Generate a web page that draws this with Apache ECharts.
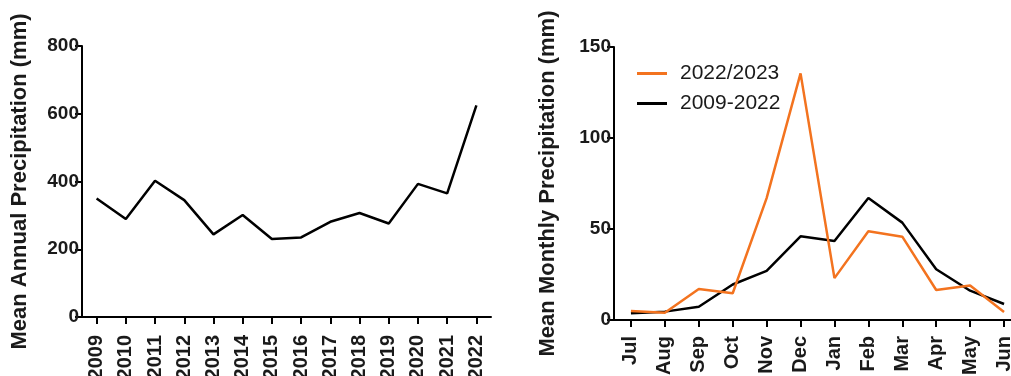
<!DOCTYPE html>
<html>
<head>
<meta charset="utf-8">
<script src="https://cdn.jsdelivr.net/npm/echarts@6/dist/echarts.min.js"></script>
<style>html,body{margin:0;padding:0;background:#fff;}#c{width:1011px;height:376px;}</style>
</head>
<body>
<div id="c"></div>
<script>
const years = ['2009','2010','2011','2012','2013','2014','2015','2016','2017','2018','2019','2020','2021','2022'];
const annualPrecip = [350, 289, 402, 345, 244, 301, 230, 235, 281, 307, 276, 393, 365, 625];
const months = ['Jul','Aug','Sep','Oct','Nov','Dec','Jan','Feb','Mar','Apr','May','Jun'];
const monthly2022_2023 = [5, 4, 17, 14.7, 67, 135.5, 23, 48.8, 45.8, 16.5, 19, 4.4];
const monthly2009_2022 = [3.7, 4.6, 7.3, 19.5, 27, 46, 43.4, 67, 53.5, 27.9, 16.1, 8.8];
const leftTicks = [0, 200, 400, 600, 800];
const rightTicks = [0, 50, 100, 150];

const FONT = '"Liberation Sans", Arial, sans-serif';
const TXT = '#1a1a1a';
const ORANGE = '#f3731f';

const axisLine = { show: true, lineStyle: { color: '#000', width: 2 } };
const axisTick = { show: true, length: 7, lineStyle: { color: '#000', width: 2 } };

const chart = echarts.init(document.getElementById('c'), null, { renderer: 'canvas' });
chart.setOption({
  animation: false,
  backgroundColor: '#fff',
  textStyle: { fontFamily: FONT },
  legend: {
    left: 632, top: 58, orient: 'vertical', itemGap: 9,
    itemWidth: 30, itemHeight: 3, icon: 'rect',
    textStyle: { fontFamily: FONT, fontSize: 21, color: TXT, padding: [0, 0, 0, 8] },
    data: [
      { name: '2022/2023', itemStyle: { color: ORANGE } },
      { name: '2009-2022', itemStyle: { color: '#000' } }
    ]
  },
  grid: [
    { left: 82, width: 409, top: 46, bottom: 59, containLabel: false, outerBoundsMode: 'none' },
    { left: 614, width: 407, top: 47, bottom: 56, containLabel: false, outerBoundsMode: 'none' }
  ],
  xAxis: [
    {
      gridIndex: 0, type: 'category', data: years, boundaryGap: true,
      axisLine: axisLine, axisTick: Object.assign({ alignWithLabel: true }, axisTick),
      axisLabel: { rotate: 90, interval: 0, margin: 18, fontFamily: FONT, fontSize: 20, fontWeight: 'bold', color: TXT }
    },
    {
      gridIndex: 1, type: 'category', data: months, boundaryGap: true,
      axisLine: axisLine, axisTick: Object.assign({ alignWithLabel: true }, axisTick),
      axisLabel: { rotate: 90, interval: 0, margin: 16, fontFamily: FONT, fontSize: 20, fontWeight: 'bold', color: TXT }
    }
  ],
  yAxis: [
    {
      gridIndex: 0, type: 'value', min: leftTicks[0], max: leftTicks[leftTicks.length - 1], interval: 200,
      name: 'Mean Annual Precipitation (mm)', nameLocation: 'middle', nameGap: 51, nameRotate: 90,
      nameTextStyle: { fontFamily: FONT, fontSize: 22, fontWeight: 'bold', color: TXT },
      axisLine: axisLine, axisTick: axisTick, splitLine: { show: false },
      axisLabel: { margin: 3, fontFamily: FONT, fontSize: 19, fontWeight: 'bold', color: TXT }
    },
    {
      gridIndex: 1, type: 'value', min: rightTicks[0], max: rightTicks[rightTicks.length - 1], interval: 50,
      name: 'Mean Monthly Precipitation (mm)', nameLocation: 'middle', nameGap: 55, nameRotate: 90,
      nameTextStyle: { fontFamily: FONT, fontSize: 22, fontWeight: 'bold', color: TXT },
      axisLine: axisLine, axisTick: axisTick, splitLine: { show: false },
      axisLabel: { margin: 3, fontFamily: FONT, fontSize: 19, fontWeight: 'bold', color: TXT }
    }
  ],
  series: [
    {
      name: 'annual', type: 'line', xAxisIndex: 0, yAxisIndex: 0, data: annualPrecip,
      symbol: 'none', lineStyle: { color: '#000', width: 2.5 }, itemStyle: { color: '#000' }
    },
    {
      name: '2009-2022', type: 'line', xAxisIndex: 1, yAxisIndex: 1, data: monthly2009_2022,
      symbol: 'none', lineStyle: { color: '#000', width: 2.5 }, itemStyle: { color: '#000' }
    },
    {
      name: '2022/2023', type: 'line', xAxisIndex: 1, yAxisIndex: 1, data: monthly2022_2023,
      symbol: 'none', lineStyle: { color: ORANGE, width: 2.5 }, itemStyle: { color: ORANGE }
    }
  ]
});
</script>
</body>
</html>
